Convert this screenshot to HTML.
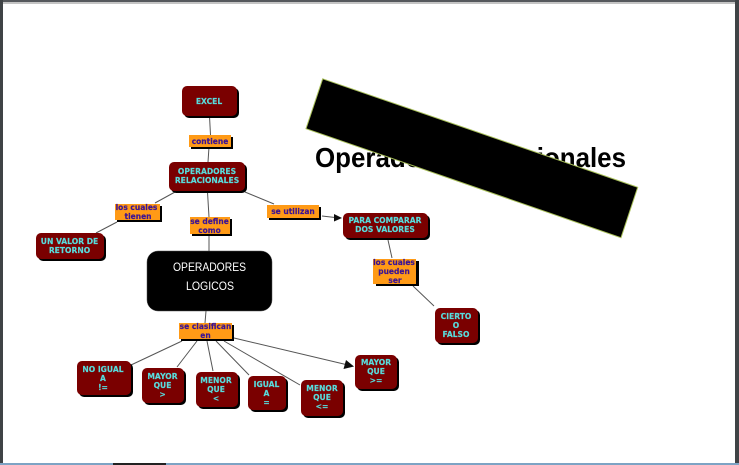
<!DOCTYPE html>
<html>
<head>
<meta charset="utf-8">
<style>
html,body{margin:0;padding:0;background:#fff;}
svg{display:block;}
.n{fill:#58dcdc;stroke:#58dcdc;stroke-width:0.15;font-family:"DejaVu Sans",sans-serif;font-weight:bold;font-size:7.6px;text-anchor:middle;}
.l{fill:#3a1296;stroke:#3a1296;stroke-width:0.15;font-family:"DejaVu Sans",sans-serif;font-weight:bold;font-size:7.5px;text-anchor:middle;}
.c{stroke:#555;stroke-width:1;fill:none;}
</style>
</head>
<body>
<svg width="739" height="465" viewBox="0 0 739 465" xmlns="http://www.w3.org/2000/svg">
<defs>
<filter id="b" x="-5%" y="-5%" width="110%" height="110%"><feGaussianBlur stdDeviation="0.3"/></filter>
</defs>
<rect width="739" height="465" fill="#fff"/>
<rect x="0" y="0" width="739" height="2" fill="#55585c"/>
<rect x="0" y="2" width="739" height="2" fill="#c4c4c4"/>
<rect x="0" y="0" width="3" height="465" fill="#3f4346"/>
<rect x="735" y="0" width="4" height="465" fill="#3f4346"/>
<rect x="0" y="463" width="739" height="2" fill="#7da3c4"/>
<rect x="113" y="463" width="53" height="2" fill="#222"/>

<text x="315" y="167" font-family="'Liberation Sans',sans-serif" font-weight="bold" font-size="28px" textLength="311" lengthAdjust="spacingAndGlyphs" fill="#000">Operadores Relacionales</text>
<polygon points="322.7,78.8 637.7,187.3 621,237.7 306,128.7" fill="#000" stroke="#a9c05a" stroke-width="1"/>

<g filter="url(#b)">
<!-- connectors -->
<path class="c" d="M209.5 116L210.5 135M209 147L208 162M175 192L155 203M117 222L96 233M207.5 192L209 217M209 236V251M245 192L274 204M388 240L392 258M413 286L434 306M206 311L205 323M182 341L131 365M197 341L177 367M207 341L213 371M216 341L249 375M224 341L300 385M234 338L348 365M322 216L335 217.5"/>
<polygon points="342,218 334,214 334,221.500" fill="#111"/>
<polygon points="354,366.500 346,360 343.500,369" fill="#111"/>

<!-- nodes -->
<g fill="#000">
<rect x="184" y="88" width="55" height="30" rx="5"/>
<rect x="171" y="164" width="76" height="29" rx="5"/>
<rect x="38" y="235" width="68" height="26" rx="5"/>
<rect x="345" y="215" width="85" height="25" rx="5"/>
<rect x="437" y="310" width="43" height="35" rx="5"/>
<rect x="79" y="363" width="54" height="34" rx="5"/>
<rect x="144" y="370" width="42" height="35" rx="5"/>
<rect x="198" y="374" width="42" height="35" rx="5"/>
<rect x="250" y="378" width="38" height="34" rx="5"/>
<rect x="303" y="382" width="42" height="36" rx="5"/>
<rect x="357" y="357" width="42" height="34" rx="5"/>
<rect x="191" y="137" width="42" height="12"/>
<rect x="117" y="206" width="45" height="16"/>
<rect x="192" y="219" width="40" height="17"/>
<rect x="269" y="207" width="52" height="13"/>
<rect x="376" y="261" width="43" height="25"/>
<rect x="181" y="325" width="53" height="16"/>
</g>
<g fill="#7a0004">
<rect x="182" y="86" width="55" height="30" rx="5"/>
<rect x="169" y="162" width="76" height="29" rx="5"/>
<rect x="36" y="233" width="68" height="26" rx="5"/>
<rect x="343" y="213" width="85" height="25" rx="5"/>
<rect x="435" y="308" width="43" height="35" rx="5"/>
<rect x="77" y="361" width="54" height="34" rx="5"/>
<rect x="142" y="368" width="42" height="35" rx="5"/>
<rect x="196" y="372" width="42" height="35" rx="5"/>
<rect x="248" y="376" width="38" height="34" rx="5"/>
<rect x="301" y="380" width="42" height="36" rx="5"/>
<rect x="355" y="355" width="42" height="34" rx="5"/>
</g>
<g fill="#ff9a14">
<rect x="189" y="135" width="42" height="12"/>
<rect x="115" y="204" width="45" height="16"/>
<rect x="190" y="217" width="40" height="17"/>
<rect x="267" y="205" width="52" height="13"/>
<rect x="373" y="259" width="43" height="25"/>
<rect x="179" y="323" width="53" height="16"/>
</g>
<rect x="147" y="251" width="125" height="60" rx="11" fill="#000" stroke="#555" stroke-width="0.5"/>

<!-- node text -->
<text class="n" x="209" y="104">EXCEL</text>
<text class="n"><tspan x="207" y="174">OPERADORES</tspan><tspan x="207" y="183">RELACIONALES</tspan></text>
<text class="n"><tspan x="69.500" y="244">UN VALOR DE</tspan><tspan x="69.500" y="253">RETORNO</tspan></text>
<text class="n"><tspan x="385" y="223">PARA COMPARAR</tspan><tspan x="385" y="232">DOS  VALORES</tspan></text>
<text class="n"><tspan x="456" y="319">CIERTO</tspan><tspan x="456" y="328">O</tspan><tspan x="456" y="337">FALSO</tspan></text>
<text class="n"><tspan x="103" y="372">NO IGUAL</tspan><tspan x="103" y="381">A</tspan><tspan x="103" y="390">!=</tspan></text>
<text class="n"><tspan x="162.500" y="379">MAYOR</tspan><tspan x="162.500" y="388">QUE</tspan><tspan x="162.500" y="397">&gt;</tspan></text>
<text class="n"><tspan x="216" y="383">MENOR</tspan><tspan x="216" y="392">QUE</tspan><tspan x="216" y="401">&lt;</tspan></text>
<text class="n"><tspan x="266.500" y="387">IGUAL</tspan><tspan x="266.500" y="396">A</tspan><tspan x="266.500" y="405">=</tspan></text>
<text class="n"><tspan x="322" y="391">MENOR</tspan><tspan x="322" y="400">QUE</tspan><tspan x="322" y="409">&lt;=</tspan></text>
<text class="n"><tspan x="376" y="365">MAYOR</tspan><tspan x="376" y="374">QUE</tspan><tspan x="376" y="383">&gt;=</tspan></text>

<!-- label text -->
<text class="l" x="210" y="144">contiene</text>
<text class="l"><tspan x="136.500" y="210">los cuales</tspan><tspan x="138" y="219">tienen</tspan></text>
<text class="l"><tspan x="209.500" y="224">se define</tspan><tspan x="209.500" y="233">como</tspan></text>
<text class="l" x="293" y="214">se utilizan</text>
<text class="l"><tspan x="394" y="265">los cuales</tspan><tspan x="394" y="274">pueden</tspan><tspan x="395" y="283">ser</tspan></text>
<text class="l"><tspan x="205.500" y="329">se clasifican</tspan><tspan x="205.500" y="338">en</tspan></text>

<!-- black box text -->
<g font-family="'Liberation Sans',sans-serif" font-size="12px" fill="#fff">
<text x="173" y="271" textLength="73" lengthAdjust="spacingAndGlyphs">OPERADORES</text>
<text x="186" y="290" textLength="48" lengthAdjust="spacingAndGlyphs">LOGICOS</text>
</g>
</g>
</svg>
</body>
</html>
